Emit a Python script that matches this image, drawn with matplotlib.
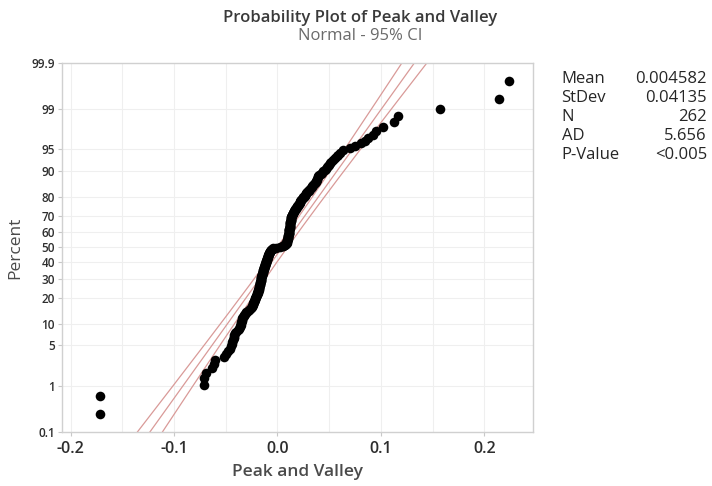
import matplotlib
matplotlib.use("Agg")
import matplotlib.pyplot as plt
import numpy as np
from statistics import NormalDist

plt.rcParams['font.family'] = ['Open Sans', 'DejaVu Sans']

# Sorted observations of "Peak and Valley"
peak_valley = [
    -0.1721, -0.1718, -0.0713, -0.0710, -0.0696, -0.0632, -0.0616, -0.0600, -0.0519, -0.0500,
    -0.0480, -0.0461, -0.0450, -0.0440, -0.0437, -0.0429, -0.0425, -0.0421, -0.0417, -0.0413,
    -0.0398, -0.0384, -0.0374, -0.0365, -0.0360, -0.0355, -0.0352, -0.0349, -0.0346, -0.0343,
    -0.0342, -0.0335, -0.0328, -0.0321, -0.0314, -0.0307, -0.0300, -0.0289, -0.0278, -0.0268,
    -0.0257, -0.0246, -0.0243, -0.0240, -0.0236, -0.0233, -0.0230, -0.0227, -0.0223, -0.0220,
    -0.0217, -0.0214, -0.0210, -0.0207, -0.0204, -0.0201, -0.0198, -0.0194, -0.0191, -0.0188,
    -0.0186, -0.0185, -0.0183, -0.0181, -0.0179, -0.0178, -0.0176, -0.0174, -0.0173, -0.0171,
    -0.0170, -0.0168, -0.0167, -0.0166, -0.0164, -0.0163, -0.0162, -0.0160, -0.0159, -0.0158,
    -0.0156, -0.0155, -0.0153, -0.0151, -0.0150, -0.0148, -0.0146, -0.0144, -0.0143, -0.0141,
    -0.0139, -0.0137, -0.0136, -0.0134, -0.0132, -0.0130, -0.0128, -0.0126, -0.0125, -0.0123,
    -0.0121, -0.0119, -0.0117, -0.0115, -0.0113, -0.0112, -0.0110, -0.0108, -0.0106, -0.0104,
    -0.0102, -0.0100, -0.0097, -0.0095, -0.0093, -0.0091, -0.0089, -0.0087, -0.0085, -0.0083,
    -0.0080, -0.0078, -0.0076, -0.0074, -0.0069, -0.0064, -0.0058, -0.0053, -0.0048, -0.0043,
    -0.0010, 0.0025, 0.0050, 0.0056, 0.0062, 0.0068, 0.0074, 0.0080, 0.0087, 0.0088,
    0.0090, 0.0091, 0.0093, 0.0094, 0.0096, 0.0097, 0.0099, 0.0100, 0.0102, 0.0103,
    0.0104, 0.0105, 0.0106, 0.0107, 0.0108, 0.0109, 0.0111, 0.0112, 0.0113, 0.0113,
    0.0114, 0.0115, 0.0116, 0.0116, 0.0117, 0.0118, 0.0119, 0.0119, 0.0120, 0.0121,
    0.0121, 0.0122, 0.0123, 0.0124, 0.0125, 0.0127, 0.0128, 0.0129, 0.0130, 0.0131,
    0.0132, 0.0134, 0.0135, 0.0138, 0.0141, 0.0145, 0.0148, 0.0151, 0.0154, 0.0157,
    0.0161, 0.0164, 0.0167, 0.0172, 0.0176, 0.0181, 0.0185, 0.0190, 0.0194, 0.0199,
    0.0204, 0.0208, 0.0213, 0.0218, 0.0222, 0.0227, 0.0232, 0.0238, 0.0244, 0.0250,
    0.0256, 0.0262, 0.0268, 0.0274, 0.0280, 0.0287, 0.0294, 0.0301, 0.0308, 0.0315,
    0.0322, 0.0329, 0.0337, 0.0345, 0.0354, 0.0362, 0.0370, 0.0375, 0.0379, 0.0384,
    0.0388, 0.0393, 0.0406, 0.0419, 0.0431, 0.0444, 0.0457, 0.0467, 0.0477, 0.0486,
    0.0496, 0.0506, 0.0522, 0.0538, 0.0555, 0.0571, 0.0587, 0.0603, 0.0634, 0.0700,
    0.0748, 0.0812, 0.0844, 0.0876, 0.0920, 0.0951, 0.1021, 0.1128, 0.1167, 0.1567,
    0.2140, 0.2237,
]

# Summary statistics
mean = 0.004582
stdev = 0.04135
n_obs = 262
ad_stat = "5.656"
p_value = "<0.005"

percent_ticks = [0.1, 1, 5, 10, 20, 30, 40, 50, 60, 70, 80, 90, 95, 99, 99.9]
percent_labels = ["0.1", "1", "5", "10", "20", "30", "40", "50", "60", "70", "80", "90", "95", "99", "99.9"]
x_ticks = [-0.2, -0.1, 0.0, 0.1, 0.2]
x_tick_labels = ["-0.2", "-0.1", "0.0", "0.1", "0.2"]

nd = NormalDist()
inv = np.vectorize(nd.inv_cdf)

data = np.sort(np.array(peak_valley))
n = len(data)
ranks = np.arange(1, n + 1)
# Benard median ranks
prob = (ranks - 0.3) / (n + 0.4)
z_pts = inv(prob)

fig = plt.figure(figsize=(7.12, 4.86), dpi=100)
ax = fig.add_axes([62 / 712, 1 - 431.7 / 486, (533 - 62) / 712, (431.7 - 63) / 486])

z_lo, z_hi = nd.inv_cdf(0.001), nd.inv_cdf(0.999)
ax.set_ylim(z_lo, z_hi)
ax.set_xlim(-0.2084, 0.2471)

# Grid
grid_c = "#efefef"
for xv in np.arange(-0.2, 0.2001, 0.05):
    ax.axvline(xv, color=grid_c, lw=0.8, zorder=0)
for pv in percent_ticks[1:-1]:
    ax.axhline(nd.inv_cdf(pv / 100), color=grid_c, lw=0.8, zorder=0)

# Fitted line with 95% confidence bounds
zz = np.linspace(z_lo - 0.5, z_hi + 0.5, 200)
fit = mean + stdev * zz
half = 1.96 * stdev * np.sqrt(1.0 / n_obs + zz ** 2 / (2 * (n_obs - 1)))
line_c = "#d99a98"
ax.plot(fit, zz, color=line_c, lw=0.9, zorder=1)
ax.plot(fit - half, zz, color=line_c, lw=0.9, zorder=1)
ax.plot(fit + half, zz, color=line_c, lw=0.9, zorder=1)

ax.scatter(data, z_pts, s=48, color="black", zorder=3, linewidths=0)

ax.set_yticks([nd.inv_cdf(p / 100) for p in percent_ticks])
ax.set_yticklabels(percent_labels, fontsize=8.5, fontweight="semibold")
ax.set_xticks(x_ticks)
ax.set_xticklabels(x_tick_labels, fontsize=11.5, fontweight="semibold")

for s in ax.spines.values():
    s.set_color("#d0d0d0")
    s.set_linewidth(1.0)
ax.tick_params(axis="both", colors="#c8c8c8", length=3, width=0.8)
for lab in ax.get_xticklabels() + ax.get_yticklabels():
    lab.set_color("#2e2e2e")
ax.tick_params(axis="x", pad=4)
ax.tick_params(axis="y", pad=2)

ax.set_xlabel("Peak and Valley", fontsize=12.5, color="#4a4a4a", labelpad=5, fontweight="semibold")
ax.set_ylabel("Percent", fontsize=12.5, color="#4a4a4a", labelpad=6)

fig.text(360 / 712, 1 - 17.5 / 486, "Probability Plot of Peak and Valley", ha="center", va="center",
         fontsize=12, fontweight="semibold", color="#3a3a3a")
fig.text(360 / 712, 1 - 35.5 / 486, "Normal - 95% CI", ha="center", va="center",
         fontsize=12, color="#6a6a6a")

stat_names = ["Mean", "StDev", "N", "AD", "P-Value"]
stat_vals = [f"{mean}", f"{stdev}", f"{n_obs}", ad_stat, p_value]
for k, (nm, vv) in enumerate(zip(stat_names, stat_vals)):
    yy = 1 - (79 + 19 * k) / 486
    fig.text(561.5 / 712, yy, nm, ha="left", va="center", fontsize=12, color="#262626")
    fig.text(707 / 712, yy, vv, ha="right", va="center", fontsize=12, color="#262626")

fig.savefig("out.png", dpi=100)
